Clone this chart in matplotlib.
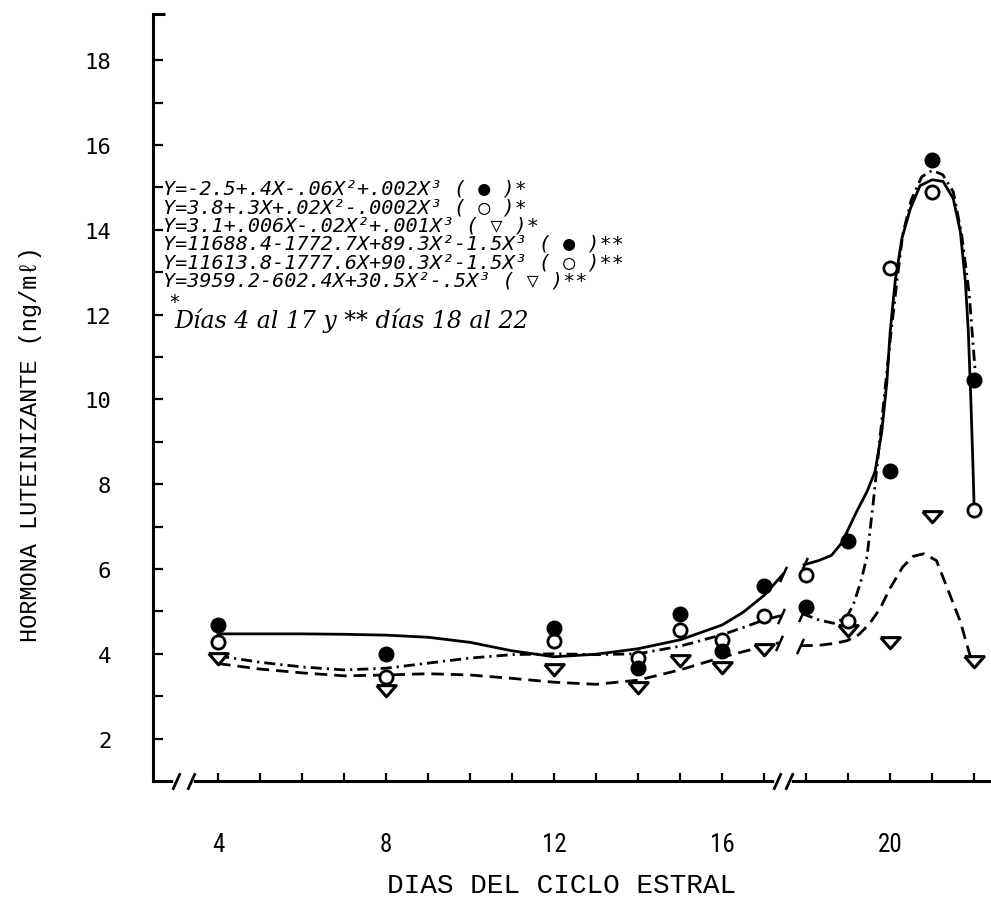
import numpy as np
import matplotlib.pyplot as plt
from matplotlib.path import Path
from matplotlib.transforms import blended_transform_factory

# LH means per day of the estrous cycle
days = [4, 8, 12, 14, 15, 16, 17, 18, 19, 20, 21, 22]
lh_filled = [4.68, 4.0, 4.62, 3.67, 4.95, 4.06, 5.6, 5.1, 6.66, 8.3, 15.65, 10.45]
lh_open = [4.28, 3.45, 4.3, 3.9, 4.57, 4.33, 4.9, 5.85, 4.78, 13.1, 14.9, 7.4]
lh_tri = [3.9, 3.15, 3.63, 3.22, 3.85, 3.68, 4.12, np.nan, 4.55, 4.28, 7.26, 3.84]

# fitted curves (days 4-17 and 18-22)
sol1_x = [4, 5, 6, 7, 8, 9, 10, 11, 12, 13, 14, 15, 16, 16.5, 17, 17.45]
sol1_y = [4.47, 4.47, 4.47, 4.46, 4.44, 4.39, 4.27, 4.07, 3.93, 3.99, 4.12, 4.33, 4.68, 4.98, 5.38, 5.88]
sol2_x = [17.95, 18.3, 18.6, 18.85, 19.2, 19.45, 19.64, 19.8, 19.92, 20.0, 20.12, 20.28,
          20.48, 20.71, 21.0, 21.26, 21.5, 21.67, 21.79, 21.86, 21.92, 21.97, 22.0]
sol2_y = [6.1, 6.2, 6.32, 6.62, 7.35, 7.83, 8.3, 9.24, 10.4, 11.6, 12.8, 13.8,
          14.5, 15.04, 15.18, 15.14, 14.74, 13.96, 12.78, 11.6, 10.0, 8.44, 7.4]

dd1_x = [4, 5, 6, 7, 8, 9, 10, 11, 12, 13, 14, 15, 16, 16.5, 17, 17.4]
dd1_y = [3.95, 3.8, 3.69, 3.62, 3.66, 3.78, 3.9, 3.98, 4.0, 3.98, 4.0, 4.18, 4.45, 4.62, 4.8, 4.9]
dd2_x = [17.9, 18.3, 18.65, 18.95, 19.12, 19.3, 19.45, 19.6, 19.8, 20.0, 20.15, 20.3,
         20.5, 20.75, 21.0, 21.25, 21.5, 21.7, 21.88, 22.04]
dd2_y = [4.95, 4.8, 4.72, 4.85, 5.15, 5.7, 6.3, 7.6, 9.5, 11.4, 12.7, 13.9,
         14.7, 15.25, 15.4, 15.3, 14.9, 13.9, 12.5, 10.45]

da1_x = [4, 5, 6, 7, 8, 9, 10, 11, 12, 13, 14, 15, 16, 17, 17.35]
da1_y = [3.77, 3.64, 3.55, 3.48, 3.5, 3.53, 3.5, 3.42, 3.33, 3.28, 3.38, 3.62, 3.92, 4.18, 4.26]
da2_x = [17.86, 18.3, 18.64, 18.98, 19.25, 19.5, 19.75, 20.0, 20.3, 20.55, 20.8, 21.1,
         21.43, 21.67, 21.9, 22.0]
da2_y = [4.19, 4.2, 4.24, 4.31, 4.45, 4.7, 5.05, 5.55, 6.05, 6.3, 6.36, 6.2,
         5.37, 4.76, 3.96, 3.85]

x_ticks = list(range(4, 23))
x_labels = [str(d) if d % 4 == 0 else '' for d in x_ticks]
y_major = list(range(2, 19, 2))
y_minor = list(range(3, 18, 2))

eq_lines = [
    "Y=-2.5+.4X-.06X²+.002X³ ( ● )*",
    "Y=3.8+.3X+.02X²-.0002X³ ( ○ )*",
    "Y=3.1+.006X-.02X²+.001X³ ( ▽ )*",
    "Y=11688.4-1772.7X+89.3X²-1.5X³ ( ● )**",
    "Y=11613.8-1777.6X+90.3X²-1.5X³ ( ○ )**",
    "Y=3959.2-602.4X+30.5X²-.5X³ ( ▽ )**",
]
note_text = "Días 4 al 17 y ** días 18 al 22"

narrow = ['Roboto Condensed', 'Roboto', 'DejaVu Sans']
typewriter = ['Liberation Mono', 'DejaVu Sans Mono']
mono = ['DejaVu Sans Mono', 'DejaVu Sans']

fig = plt.figure(figsize=(9.91, 9.03), dpi=100)
ax = fig.add_axes([0.1544, 0.134, 0.8456, 0.8494])

# fitted curves
ax.plot(sol1_x, sol1_y, color='k', lw=2.0, solid_joinstyle='round', zorder=3)
ax.plot(sol2_x, sol2_y, color='k', lw=2.0, solid_joinstyle='round', zorder=3)
ax.plot(dd1_x, dd1_y, color='k', lw=2.0, dashes=(4, 1.8, 0.8, 1.8), zorder=3)
ax.plot(dd2_x, dd2_y, color='k', lw=2.0, dashes=(4, 1.8, 0.8, 1.8), zorder=3)
ax.plot(da1_x, da1_y, color='k', lw=2.0, dashes=(4.5, 2.5), zorder=3)
ax.plot(da2_x, da2_y, color='k', lw=2.0, dashes=(4.5, 2.5), zorder=3)

# "//" marks where each curve is split between the two fits
slash = Path([(-0.45, -1), (0.45, 1)], [Path.MOVETO, Path.LINETO])
for xa, ya, xb, yb in [(sol1_x, sol1_y, sol2_x, sol2_y),
                       (dd1_x, dd1_y, dd2_x, dd2_y),
                       (da1_x, da1_y, da2_x, da2_y)]:
    ax.plot([xa[-1], xb[0]], [ya[-1], yb[0]], ls='none', marker=slash,
            ms=11, mec='k', mew=1.8, zorder=4)

# data points
tri = Path([(-1, 0.5), (1, 0.5), (0, -0.65), (-1, 0.5)])
ax.plot(days, lh_tri, ls='none', marker=tri, ms=14, mfc='white', mec='k', mew=2.2, zorder=5)
ax.plot(days, lh_open, ls='none', marker='o', ms=9.5, mfc='white', mec='k', mew=2.0, zorder=6)
ax.plot(days, lh_filled, ls='none', marker='o', ms=10.5, mfc='k', mec='k', zorder=7)

ax.set_xlim(2.45, 22.4)
ax.set_ylim(1, 19.09)

for s in ['top', 'right']:
    ax.spines[s].set_visible(False)
for s in ['left', 'bottom']:
    ax.spines[s].set_linewidth(2.2)

# small cap on top of the y axis
ax.plot([0, 0.014], [1, 1], transform=ax.transAxes, color='k', lw=2.2,
        clip_on=False, solid_capstyle='butt')

# axis breaks on the x axis
trans = blended_transform_factory(ax.transData, ax.transAxes)
for xb in [(3.0, 3.35), (17.3, 17.6)]:
    ax.plot(list(xb), [0, 0], transform=trans, color='white', lw=4, clip_on=False, zorder=8)
    ax.plot(list(xb), [0, 0], transform=trans, ls='none', marker=slash, ms=12,
            mec='k', mew=2.0, clip_on=False, zorder=9)

ax.set_xticks(x_ticks)
ax.set_xticklabels(x_labels, family=narrow, fontsize=18)
ax.set_yticks(y_major)
ax.set_yticks(y_minor, minor=True)
ax.set_yticklabels([str(v) for v in y_major], family=mono, fontsize=16)
ax.tick_params(axis='x', direction='in', length=6, width=1.6, pad=37)
ax.tick_params(axis='y', which='both', direction='in', length=7, width=1.6, pad=30)

ax.set_xlabel("DIAS DEL CICLO ESTRAL", family=typewriter, fontsize=20)
ax.xaxis.set_label_coords(0.487, -0.118)
ax.set_ylabel("HORMONA LUTEINIZANTE (ng/mℓ)", family=typewriter, fontsize=17)
ax.yaxis.set_label_coords(-0.132, 0.44)

# regression equations
for i, line in enumerate(eq_lines):
    ax.text(0.012, 0.773 - i * 0.024, line, transform=ax.transAxes, family=mono,
            style='italic', fontsize=14.5, va='center', ha='left')
ax.text(0.018, 0.773 - 6 * 0.024 - 0.004, "*", transform=ax.transAxes, family=mono,
        fontsize=14, va='center', ha='left')
ax.text(0.026, 0.773 - 7 * 0.024 - 0.004, note_text, transform=ax.transAxes,
        family=['DejaVu Serif'], style='italic', fontsize=17, va='center', ha='left')

fig.savefig("out.png", dpi=100)
